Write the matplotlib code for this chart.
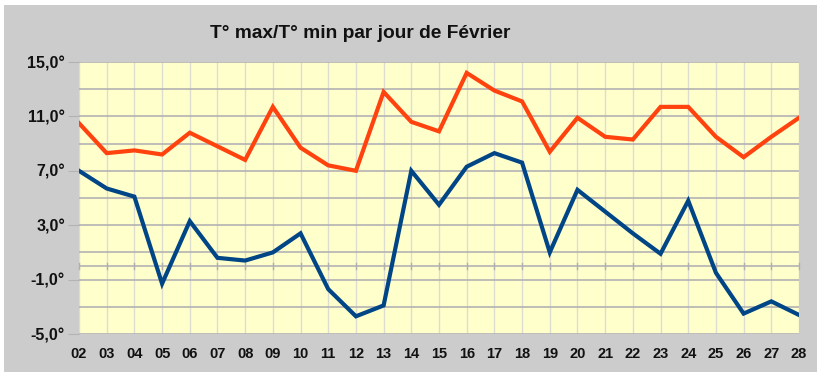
import matplotlib.pyplot as plt
from matplotlib.patches import Rectangle
from matplotlib.ticker import FixedLocator, FuncFormatter

# Données : températures de février
jours = list(range(2, 29))
t_max = [10.5, 8.3, 8.5, 8.2, 9.8, 8.8, 7.8, 11.7, 8.7, 7.4, 7.0, 12.8, 10.6, 9.9,
         14.2, 12.9, 12.1, 8.4, 10.9, 9.5, 9.3, 11.7, 11.7, 9.5, 8.0, 9.5, 10.9]
t_min = [7.0, 5.7, 5.1, -1.3, 3.3, 0.6, 0.4, 1.0, 2.4, -1.7, -3.7, -2.9, 7.0, 4.5,
         7.3, 8.3, 7.6, 1.0, 5.6, 4.0, 2.4, 0.9, 4.8, -0.5, -3.5, -2.6, -3.6]
jour_labels = [f"{j:02d}" for j in jours]
y_major = [-5, -1, 3, 7, 11, 15]
y_minor = [-3, 1, 5, 9, 13]

plt.rcParams['font.family'] = ['Liberation Sans', 'DejaVu Sans']

fig = plt.figure(figsize=(8.21, 3.77), dpi=100)
fig.patch.set_facecolor("white")
fig.patches.append(Rectangle((4 / 821, 5 / 377), 813 / 821, 367 / 377,
                             transform=fig.transFigure, facecolor="#cccccc",
                             edgecolor="none", zorder=-10))

ax = fig.add_axes([79 / 821, 1 - 334 / 377, 720 / 821, 272 / 377])
ax.set_zorder(1)
ax.set_facecolor("#ffffcc")

ax.plot(jours, t_max, color="#ff420e", linewidth=3, solid_joinstyle="miter", zorder=3)
ax.plot(jours, t_min, color="#004586", linewidth=3, solid_joinstyle="miter", zorder=3)

ax.set_xlim(2, 28)
ax.set_ylim(-5, 15)
ax.set_xticks(jours)
ax.set_xticklabels(jour_labels)
ax.yaxis.set_major_locator(FixedLocator(y_major))
ax.yaxis.set_minor_locator(FixedLocator(y_minor))
ax.yaxis.set_major_formatter(FuncFormatter(lambda v, p: f"{v:.1f}°".replace(".", ",")))

ax.grid(axis="y", which="both", color="#b3b3b3", linewidth=1.2, zorder=1)
ax.grid(axis="x", which="major", color="#dcdcd0", linewidth=1, zorder=1)

# axe horizontal à 0 avec petites graduations
ax.axhline(0, color="#b3b3b3", linewidth=1.2, zorder=2)
for j in jours:
    ax.plot([j, j], [-0.25, 0.25], color="#b0b0b0", linewidth=1, zorder=2,
            clip_on=False)

for s in ax.spines.values():
    s.set_visible(False)

ax.tick_params(axis="x", length=0, pad=9, labelsize=10.5, labelcolor="#111111")
ax.tick_params(axis="y", which="major", length=8, color="#b3b3b3", pad=2,
               labelsize=11.5, labelcolor="#111111")
ax.tick_params(axis="y", which="minor", length=0)
for lab in ax.get_xticklabels() + ax.get_yticklabels():
    lab.set_fontweight("bold")

fig.text(360 / 821, 1 - 33 / 377, "T° max/T° min par jour de Février",
         ha="center", va="center", fontsize=13.8, fontweight="bold", color="#111111")

fig.savefig("out.png", dpi=100)
